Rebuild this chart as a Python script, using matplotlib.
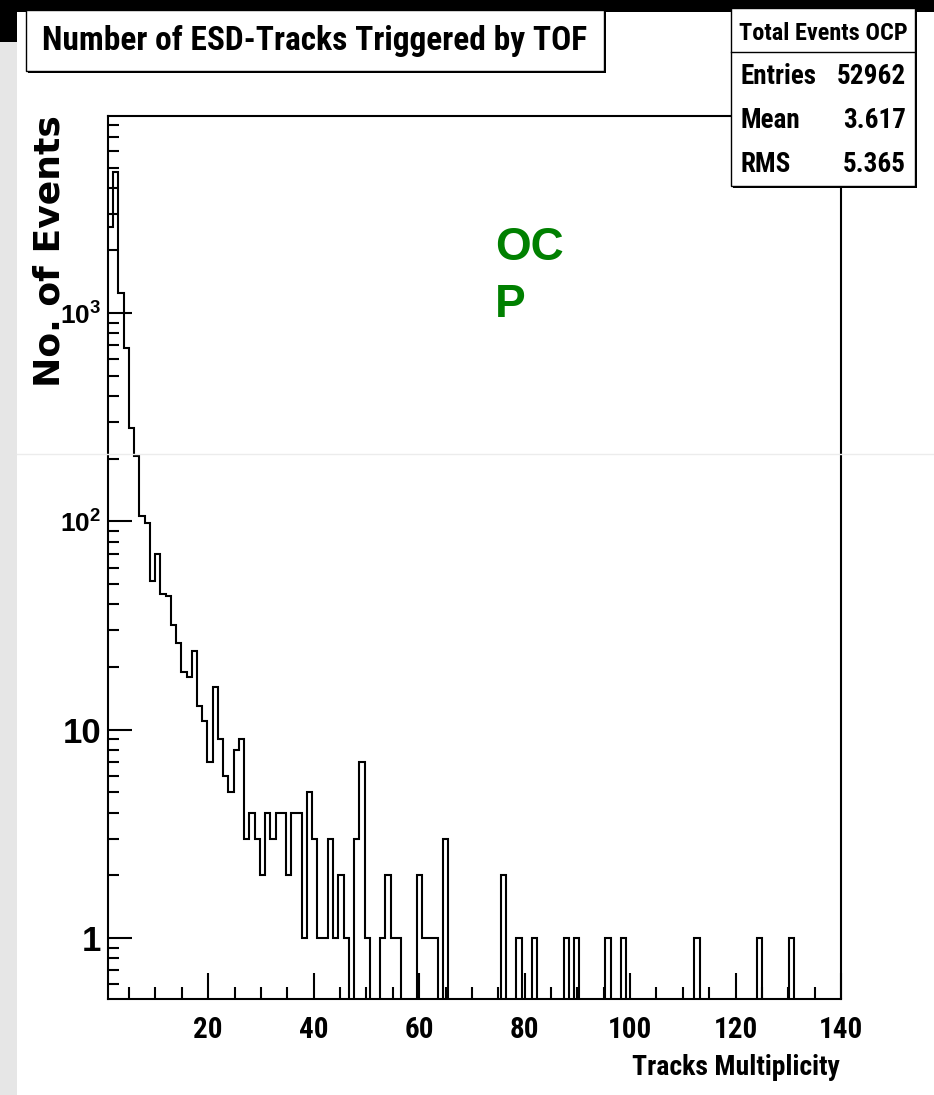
import numpy as np
import matplotlib
matplotlib.use("Agg")
import matplotlib.pyplot as plt
from matplotlib.patches import Rectangle
from matplotlib.lines import Line2D
from matplotlib.ticker import FixedLocator, FixedFormatter, NullFormatter

NARROW = ['Roboto Condensed', 'Liberation Sans', 'DejaVu Sans']
WIDE = ['Liberation Sans', 'DejaVu Sans']
plt.rcParams['font.family'] = NARROW
plt.rcParams['font.weight'] = 'bold'
plt.rcParams['mathtext.default'] = 'regular'

# histogram: 141 bins from 0 to 140, multiplicity 1..140 on display
n_bins = 141
x_max = 140.0

# counts for multiplicity 1..65
counts_low = [2600, 4770, 1245, 678, 280, 205, 106, 98, 52, 70,
              45, 44, 32, 26, 19, 18, 24, 13, 11, 7,
              16, 9, 6, 5, 8, 9, 3, 4, 3, 2,
              4, 3, 4, 4, 2, 4, 4, 1, 5, 3,
              1, 1, 3, 1, 2, 1, 0, 3, 7, 1,
              0, 0, 1, 2, 1, 1, 0, 0, 0, 2,
              1, 1, 1, 0, 3]
# sparse tail
tail_mult = [76, 79, 82, 88, 90, 96, 99, 113, 125, 131]
tail_counts = [2, 1, 1, 1, 1, 1, 1, 1, 1, 1]

x_ticks = [20, 40, 60, 80, 100, 120, 140]
y_ticks = [1, 10, 100, 1000]
y_tick_labels = ['1', '10', r'$10^{2}$', r'$10^{3}$']

title = 'Number of ESD-Tracks Triggered by TOF'
stats_title = 'Total Events OCP'
stats_names = ['Entries', 'Mean', 'RMS']
stats_values = ['52962', '3.617', '5.365']

# build the bin contents
counts = np.zeros(140)
counts[:len(counts_low)] = counts_low
for m, c in zip(tail_mult, tail_counts):
    counts[m - 1] = c
w = x_max / n_bins
edges = np.arange(1, n_bins + 1) * w

W, H = 934, 1095
fig = plt.figure(figsize=(W / 100, H / 100), dpi=100)


def fx(px):
    return px / W


def fy(py):
    return 1 - py / H


def box(x0, y0, x1, y1, **kw):
    r = Rectangle((fx(x0), fy(y1)), fx(x1) - fx(x0), fy(y0) - fy(y1),
                  transform=fig.transFigure, **kw)
    fig.add_artist(r)
    return r


# page decoration around the canvas
box(0, 0, W, 12, facecolor='black', edgecolor='none', zorder=0)
box(0, 0, 17, 42, facecolor='black', edgecolor='none', zorder=0)
box(0, 42, 17, H, facecolor='#e6e6e6', edgecolor='none', zorder=0)
fig.add_artist(Line2D([fx(17), 1], [fy(454), fy(454)], color='#ececec', lw=1, zorder=5))

ax = fig.add_axes([fx(108), fy(999), fx(841) - fx(108), fy(116) - fy(999)])
ax.stairs(np.where(counts > 0, counts, 1e-3), edges, baseline=None,
          color='black', lw=1.5)
ax.set_yscale('log')
ax.set_xlim(w, x_max)
ax.set_ylim(0.51, 8835)

ax.xaxis.set_major_locator(FixedLocator(x_ticks))
ax.xaxis.set_minor_locator(FixedLocator(np.arange(5, 141, 5)))
ax.yaxis.set_major_locator(FixedLocator(y_ticks))
ax.yaxis.set_major_formatter(FixedFormatter(y_tick_labels))
minor_y = [v * d for d in [0.1, 1, 10, 100, 1000] for v in range(2, 10)]
ax.yaxis.set_minor_locator(FixedLocator([v for v in minor_y if 0.5 < v < 9000]))
ax.yaxis.set_minor_formatter(NullFormatter())

ax.tick_params(which='both', direction='in', top=False, right=False, width=1.5)
ax.tick_params(axis='x', which='major', length=19, pad=12, labelsize=21)
ax.tick_params(axis='x', which='minor', length=8.5)
ax.tick_params(axis='y', which='major', length=17, pad=5, labelsize=25)
ax.tick_params(axis='y', which='minor', length=8)
for lab in ax.get_yticklabels():
    lab.set_family(WIDE)
    if '^' in lab.get_text():
        lab.set_fontsize(19)
for s in ax.spines.values():
    s.set_linewidth(1.5)

fig.text(fx(840), fy(1054), 'Tracks Multiplicity', ha='right', va='top', fontsize=20)
fig.text(fx(50), fy(115), 'No. of Events', rotation=90, ha='center', va='top',
         fontsize=26, family=['DejaVu Sans'])

# title pave
box(28, 12, 606, 73, facecolor='black', edgecolor='none', zorder=6)
box(26, 10, 604, 71, facecolor='white', edgecolor='black', lw=1, zorder=7)
fig.text(fx(315), fy(41), title, ha='center', va='center', fontsize=24, zorder=8)

# statistics box
box(733, 10, 917, 188, facecolor='black', edgecolor='none', zorder=6)
box(731, 8, 915, 186, facecolor='white', edgecolor='black', lw=1, zorder=7)
fig.add_artist(Line2D([fx(731), fx(915)], [fy(52), fy(52)], color='black', lw=1, zorder=8))
fig.text(fx(823), fy(33), stats_title, ha='center', va='center', fontsize=17.5, zorder=8)
for i, (n, v) in enumerate(zip(stats_names, stats_values)):
    yy = 77 + 44 * i
    fig.text(fx(740), fy(yy), n, ha='left', va='center', fontsize=19.5, zorder=8)
    fig.text(fx(906), fy(yy), v, ha='right', va='center', fontsize=19.5, zorder=8)

fig.text(fx(495), fy(226), 'OC\nP', color='#008000', fontsize=33, ha='left', va='top',
         linespacing=1.37, family=WIDE, fontweight='bold')

fig.savefig('out.png', dpi=100)
